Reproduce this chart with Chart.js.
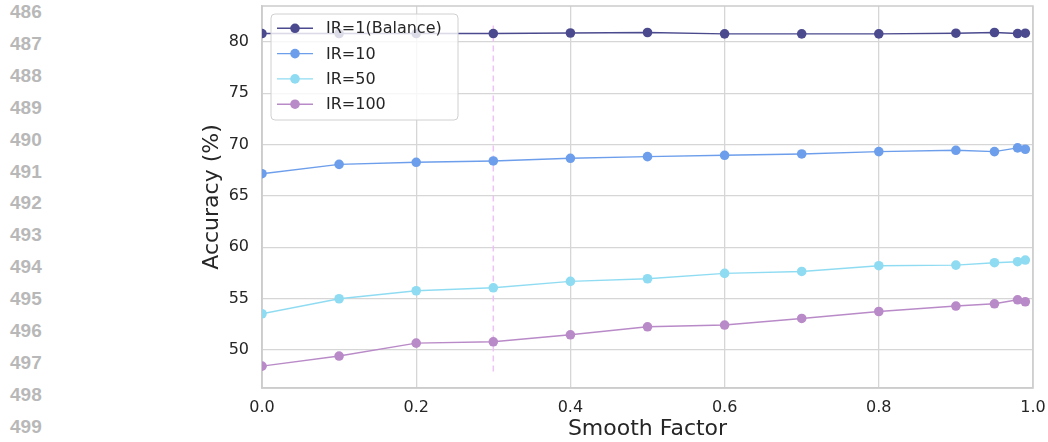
<!DOCTYPE html>
<html>
<head>
<meta charset="utf-8">
<script src="https://cdn.jsdelivr.net/npm/chart.js@4.4.0/dist/chart.umd.min.js"></script>
<style>
    body { margin: 0; background: #ffffff; }
    #wrap { position: relative; width: 1048px; height: 442px; overflow: hidden; }
    #lineNums { position: absolute; left: 10px; top: -4px; font-family: "Liberation Sans", Arial, sans-serif;
        font-weight: bold; font-size: 19px; color: #b8b8b8; line-height: 31.9px; }
    canvas { position: absolute; left: 0; top: 0; }
</style>
</head>
<body>
<div id="wrap">
    <div id="lineNums"></div>
    <canvas id="smoothChart" width="1048" height="442"></canvas>
</div>
<script>
    // Data
    const lineNumbers = [486, 487, 488, 489, 490, 491, 492, 493, 494, 495, 496, 497, 498, 499];
    const smoothFactors = [0, 0.1, 0.2, 0.3, 0.4, 0.5, 0.6, 0.7, 0.8, 0.9, 0.95, 0.98, 0.99];
    const seriesLabels = ['IR=1(Balance)', 'IR=10', 'IR=50', 'IR=100'];
    const ir1 = [80.82, 80.82, 80.82, 80.82, 80.87, 80.92, 80.79, 80.79, 80.79, 80.85, 80.92, 80.82, 80.85];
    const ir10 = [67.17, 68.08, 68.28, 68.41, 68.67, 68.83, 68.96, 69.09, 69.32, 69.45, 69.32, 69.68, 69.55];
    const ir50 = [53.53, 54.99, 55.77, 56.06, 56.68, 56.94, 57.46, 57.65, 58.21, 58.27, 58.50, 58.60, 58.76];
    const ir100 = [48.43, 49.41, 50.67, 50.80, 51.48, 52.26, 52.43, 53.07, 53.75, 54.28, 54.50, 54.89, 54.70];
    const chosenFactor = 0.3;
    const markerSpan = [47.9, 82.0];
    const xTickStep = 0.2;
    const yTickStep = 5;

    const colors = ['#4b4a8e', '#6d9eeb', '#8fdcf2', '#b98ac8'];
    const textColor = '#262626';
    const gridColor = '#d6d6d6';

    document.getElementById('lineNums').innerHTML = lineNumbers.map(n => '<div>' + n + '</div>').join('');

    const toPoints = arr => arr.map((v, i) => ({ x: smoothFactors[i], y: v }));

    const seriesDatasets = [ir1, ir10, ir50, ir100].map((arr, i) => ({
        label: seriesLabels[i],
        data: toPoints(arr),
        borderColor: colors[i],
        backgroundColor: colors[i],
        borderWidth: 1.4,
        pointRadius: 4.8,
        pointBorderWidth: 0,
        pointHoverRadius: 4.8,
        tension: 0
    }));

    const markerDataset = {
        label: 'marker',
        data: markerSpan.map(v => ({ x: chosenFactor, y: v })),
        borderColor: 'rgba(236, 190, 245, 0.9)',
        borderWidth: 1.5,
        borderDash: [6, 4],
        pointRadius: 0,
        order: 10
    };

    // grey frame round the plot (seaborn whitegrid look)
    const plotFrame = {
        id: 'plotFrame',
        beforeDatasetsDraw(chart) {
            const { left, top, right, bottom } = chart.chartArea;
            const ctx = chart.ctx;
            ctx.save();
            ctx.strokeStyle = '#cccccc';
            ctx.lineWidth = 1.5;
            ctx.strokeRect(left, top, right - left, bottom - top);
            ctx.restore();
        }
    };

    // legend drawn inside the plot, like the matplotlib one
    const innerLegend = {
        id: 'innerLegend',
        afterDatasetsDraw(chart) {
            const ctx = chart.ctx;
            const box = { x: 271, y: 14, w: 187, h: 106 };
            ctx.save();
            ctx.beginPath();
            ctx.roundRect(box.x, box.y, box.w, box.h, 4);
            ctx.fillStyle = 'rgba(255,255,255,0.8)';
            ctx.fill();
            ctx.strokeStyle = '#d0d0d0';
            ctx.lineWidth = 1;
            ctx.stroke();
            ctx.font = '16px "DejaVu Sans"';
            ctx.textBaseline = 'middle';
            seriesDatasets.forEach((ds, i) => {
                const y = 28.3 + i * 25.3;
                ctx.strokeStyle = ds.borderColor;
                ctx.lineWidth = 1.4;
                ctx.beginPath();
                ctx.moveTo(277, y);
                ctx.lineTo(313, y);
                ctx.stroke();
                ctx.fillStyle = ds.borderColor;
                ctx.beginPath();
                ctx.arc(295, y, 4.8, 0, Math.PI * 2);
                ctx.fill();
                ctx.fillStyle = textColor;
                ctx.fillText(ds.label, 326, y + 1);
            });
            ctx.restore();
        }
    };

    const noPad = scale => {
        scale.paddingTop = 0;
        scale.paddingBottom = 0;
        scale.paddingLeft = 0;
        scale.paddingRight = 0;
    };

    const ctx = document.getElementById('smoothChart').getContext('2d');
    const smoothChart = new Chart(ctx, {
        type: 'line',
        data: { datasets: [...seriesDatasets, markerDataset] },
        options: {
            responsive: false,
            animation: false,
            layout: { padding: { left: 190, right: 15, top: 6, bottom: 0 } },
            scales: {
                x: {
                    type: 'linear',
                    min: 0,
                    max: 1,
                    afterFit: scale => { scale.height = 54; noPad(scale); },
                    ticks: {
                        stepSize: xTickStep,
                        padding: 10,
                        color: textColor,
                        font: { family: 'DejaVu Sans', size: 16 },
                        callback: v => v.toFixed(1)
                    },
                    grid: { color: gridColor, lineWidth: 1.3, drawTicks: false },
                    border: { color: '#cccccc', width: 1.5 },
                    title: {
                        display: true,
                        text: 'Smooth Factor',
                        color: textColor,
                        font: { family: 'DejaVu Sans', size: 22 },
                        padding: { top: 0, bottom: 0 }
                    }
                },
                y: {
                    min: 46.3,
                    max: 83.5,
                    afterFit: scale => { scale.width = 72; noPad(scale); },
                    afterBuildTicks: scale => {
                        scale.ticks = scale.ticks.filter(t => Math.abs(t.value % yTickStep) < 1e-6);
                    },
                    ticks: {
                        stepSize: yTickStep,
                        padding: 13,
                        color: textColor,
                        font: { family: 'DejaVu Sans', size: 16 },
                        callback: v => String(Math.round(v))
                    },
                    grid: { color: gridColor, lineWidth: 1.3, drawTicks: false },
                    border: { color: '#cccccc', width: 1.5 },
                    title: {
                        display: true,
                        text: 'Accuracy (%)',
                        color: textColor,
                        font: { family: 'DejaVu Sans', size: 22 },
                        padding: { top: 9, bottom: 0 }
                    }
                }
            },
            plugins: {
                legend: { display: false },
                tooltip: { enabled: false }
            }
        },
        plugins: [plotFrame, innerLegend]
    });
</script>
</body>
</html>
